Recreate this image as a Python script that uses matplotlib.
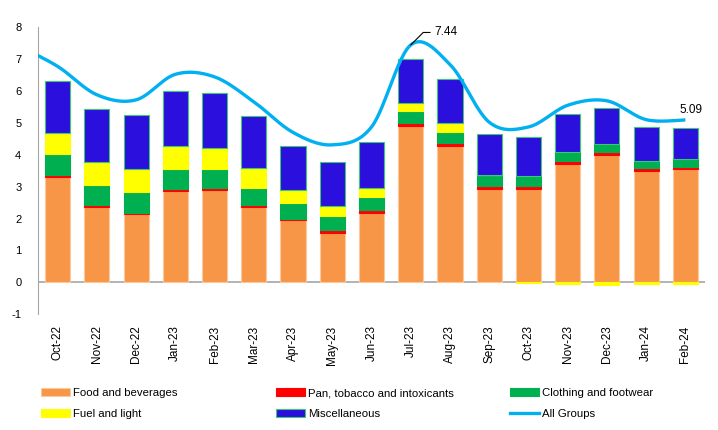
import numpy as np
import matplotlib
matplotlib.use("Agg")
import matplotlib.pyplot as plt
from matplotlib.patches import Patch
from matplotlib.lines import Line2D

plt.rcParams["font.family"] = ["Liberation Sans", "DejaVu Sans"]
plt.rcParams["axes.unicode_minus"] = False

months = ["Oct-22", "Nov-22", "Dec-22", "Jan-23", "Feb-23", "Mar-23", "Apr-23",
          "May-23", "Jun-23", "Jul-23", "Aug-23", "Sep-23", "Oct-23", "Nov-23",
          "Dec-23", "Jan-24", "Feb-24"]

food = [3.30, 2.37, 2.15, 2.87, 2.88, 2.37, 1.94, 1.56, 2.18, 4.90, 4.28, 2.93,
        2.93, 3.71, 3.99, 3.49, 3.56]
pan = [0.05, 0.05, 0.04, 0.06, 0.07, 0.06, 0.06, 0.09, 0.10, 0.09, 0.09, 0.09,
       0.09, 0.10, 0.10, 0.08, 0.07]
clothing = [0.66, 0.63, 0.64, 0.61, 0.60, 0.54, 0.50, 0.43, 0.40, 0.37, 0.33, 0.34,
            0.32, 0.27, 0.26, 0.24, 0.23]
fuel = [0.67, 0.71, 0.73, 0.74, 0.67, 0.62, 0.38, 0.32, 0.27, 0.26, 0.30, 0.0,
        -0.02, -0.05, -0.08, -0.04, -0.04]
misc = [1.63, 1.66, 1.70, 1.73, 1.70, 1.61, 1.39, 1.37, 1.44, 1.39, 1.36, 1.29,
        1.21, 1.20, 1.11, 1.05, 0.99]

# All Groups line, first value is Sep-22 (sits left of the axis and gets clipped)
all_groups = [7.41, 6.77, 5.88, 5.72, 6.52, 6.44, 5.66, 4.70, 4.31, 4.87, 7.44,
              6.83, 5.02, 4.87, 5.55, 5.69, 5.10, 5.09]

series = [
    ("Food and beverages", food, "#F79646", "#FBC9A0"),
    ("Pan, tobacco and intoxicants", pan, "#FF0000", "#FF0000"),
    ("Clothing and footwear", clothing, "#00B050", "#00B050"),
    ("Fuel and light", fuel, "#FFFF00", "#FFFF00"),
    ("Miscellaneous", misc, "#2B0FDC", "#3CC878"),
]
LINE_COLOR = "#00B0F0"


def smooth(xs, ys, n=30):
    # catmull-rom style smoothing like Excel's smoothed line
    xs = np.asarray(xs, float)
    ys = np.asarray(ys, float)
    px = np.concatenate([[xs[0]], xs, [xs[-1]]])
    py = np.concatenate([[ys[0]], ys, [ys[-1]]])
    out_x, out_y = [], []
    t = np.linspace(0, 1, n)
    for i in range(1, len(px) - 2):
        b0x, b0y = px[i], py[i]
        b3x, b3y = px[i + 1], py[i + 1]
        b1x = b0x + (px[i + 1] - px[i - 1]) / 6
        b1y = b0y + (py[i + 1] - py[i - 1]) / 6
        b2x = b3x - (px[i + 2] - px[i]) / 6
        b2y = b3y - (py[i + 2] - py[i]) / 6
        out_x.append((1-t)**3*b0x + 3*(1-t)**2*t*b1x + 3*(1-t)*t**2*b2x + t**3*b3x)
        out_y.append((1-t)**3*b0y + 3*(1-t)**2*t*b1y + 3*(1-t)*t**2*b2y + t**3*b3y)
    return np.concatenate(out_x), np.concatenate(out_y)


fig = plt.figure(figsize=(7.18, 4.30), dpi=100)
ax = fig.add_axes([0.0529, 0.269, 0.929, 0.668])

x = np.arange(len(months))
pos_base = np.zeros(len(months))
neg_base = np.zeros(len(months))
for name, vals, color, edge in series:
    vals = np.array(vals)
    bottom = np.where(vals >= 0, pos_base, neg_base)
    ax.bar(x, vals, 0.64, bottom=bottom, color=color, edgecolor=edge,
           linewidth=0.8, zorder=2)
    pos_base = pos_base + np.where(vals >= 0, vals, 0)
    neg_base = neg_base + np.where(vals < 0, vals, 0)

lx = np.arange(len(all_groups)) - 1
sx, sy = smooth(lx, all_groups)
ax.plot(sx, sy, color=LINE_COLOR, linewidth=2.4, zorder=3, solid_capstyle="butt")

ax.annotate("7.44", xy=(9, 7.44), xytext=(17, 9), textcoords="offset points",
            fontsize=8.5, ha="left", va="center",
            arrowprops=dict(arrowstyle="-", color="black", lw=0.8,
                            shrinkA=1, shrinkB=0,
                            connectionstyle="angle,angleA=0,angleB=45,rad=0"))
ax.annotate("5.09", xy=(16, 5.09), xytext=(-4, 7), textcoords="offset points",
            fontsize=8.5, ha="left", va="center")

ax.axhline(0, color="#A6A6A6", linewidth=1.2, zorder=1)
ax.set_xlim(-0.5, 16.5)
ax.set_ylim(-1, 8)
ax.set_yticks(range(-1, 9))
ax.set_xticks(x)
ax.set_xticklabels(months, rotation=90)
ax.tick_params(axis="both", length=0, labelsize=8)
ax.tick_params(axis="x", labelsize=8.5, pad=8)
ax.tick_params(axis="y", pad=12)
for s in ["top", "right", "bottom"]:
    ax.spines[s].set_visible(False)
ax.spines["left"].set_color("#A6A6A6")

handles = [Patch(facecolor=c, edgecolor=e, linewidth=0.8) for _, _, c, e in series]
handles.append(Line2D([0], [0], color=LINE_COLOR, linewidth=2.4))
labels = [s[0] for s in series] + ["All Groups"]
cols = [(0, 3), (1, 4), (2, 5)]
col_x = [0.057, 0.384, 0.710]
for (a, b), cx in zip(cols, col_x):
    fig.legend([handles[a], handles[b]], [labels[a], labels[b]],
               loc="upper left", bbox_to_anchor=(cx, 0.097), frameon=False,
               fontsize=8.2, handlelength=2.55, handleheight=0.7,
               handletextpad=0.3, labelspacing=0.95, borderpad=0,
               borderaxespad=0)

fig.savefig("out.png", dpi=100)
